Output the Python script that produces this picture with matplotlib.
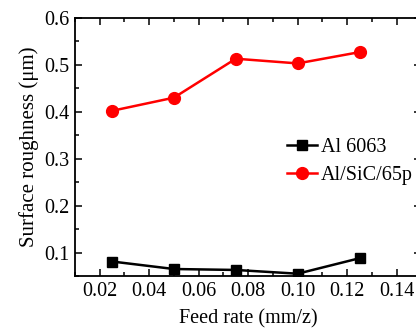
import matplotlib
matplotlib.use('Agg')
import matplotlib.pyplot as plt
from matplotlib.ticker import MultipleLocator

# Feed rate (mm/z)
feed_rate = [0.025, 0.05, 0.075, 0.10, 0.125]

# Surface roughness (um)
al6063 = [0.081, 0.065, 0.063, 0.055, 0.088]
al_sic = [0.402, 0.430, 0.513, 0.503, 0.527]

plt.rcParams['font.family'] = ['Liberation Serif', 'DejaVu Serif']

fs = 14.5

fig = plt.figure(figsize=(4.16, 3.31), dpi=100)
ax = fig.add_axes([0.180, 0.166, 0.833, 0.780])

ax.plot(feed_rate, al6063, color='black', marker='s', markersize=7,
        linewidth=1.8, label='Al 6063')
ax.plot(feed_rate, al_sic, color='red', marker='o', markersize=8.5,
        linewidth=1.8, label='Al/SiC/65p')

ax.set_xlim(0.01, 0.15)
ax.set_ylim(0.05, 0.6)
ax.xaxis.set_minor_locator(MultipleLocator(0.01))
ax.yaxis.set_minor_locator(MultipleLocator(0.05))
ax.set_xticks([0.02, 0.04, 0.06, 0.08, 0.10, 0.12, 0.14])
ax.set_xticklabels(['0.02', '0.04', '0.06', '0.08', '0.10', '0.12', '0.14'])
ax.set_yticks([0.1, 0.2, 0.3, 0.4, 0.5, 0.6])
ax.set_yticklabels(['0.1', '0.2', '0.3', '0.4', '0.5', '0.6'])

ax.tick_params(which='both', direction='in', top=True, right=True,
               labelsize=fs, width=1.1)
ax.tick_params(which='major', length=5, pad=4)
ax.tick_params(which='minor', length=3)
for sp in ax.spines.values():
    sp.set_linewidth(1.3)

ax.set_xlabel('Feed rate (mm/z)', fontsize=fs, labelpad=6)
ax.set_ylabel('Surface roughness (μm)', fontsize=15, labelpad=4)

ax.legend(loc='upper left', bbox_to_anchor=(0.612, 0.534), frameon=False,
          fontsize=fs, handlelength=1.5, handletextpad=0.2,
          labelspacing=0.45, borderaxespad=0, borderpad=0)

fig.savefig('out.png', dpi=100)
